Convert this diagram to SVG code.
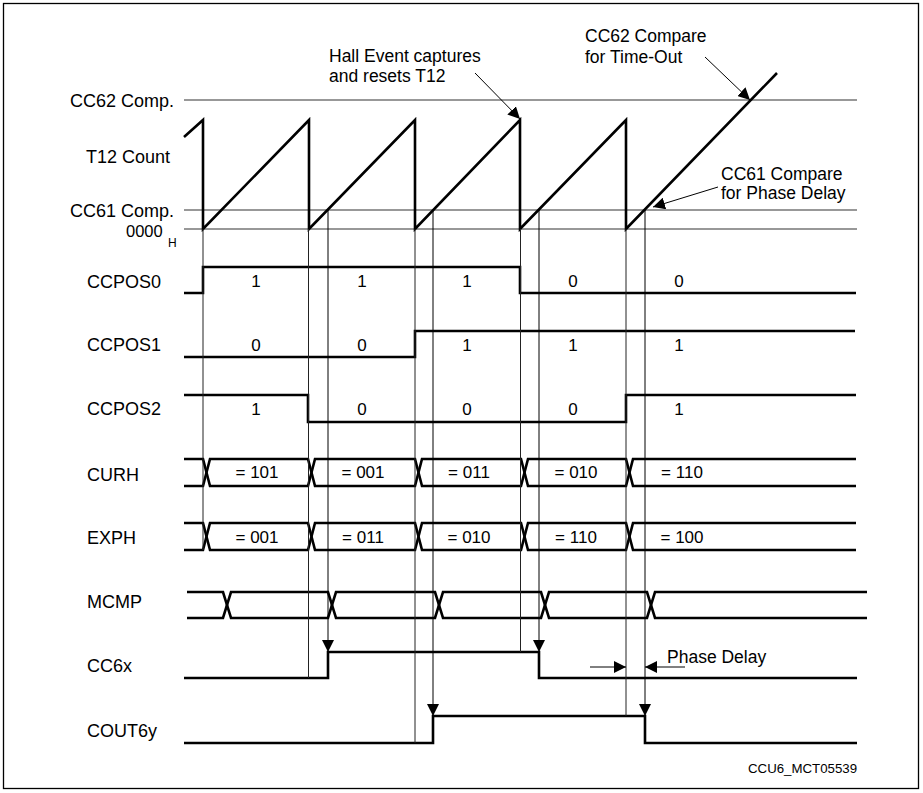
<svg xmlns="http://www.w3.org/2000/svg" width="923" height="793" viewBox="0 0 923 793">
<defs>
<style>
text{font-family:"Liberation Sans",Arial,Helvetica,sans-serif;fill:#000}
.lbl{font-size:18px}
.ann{font-size:17.5px}
.val{font-size:17px;text-anchor:middle}
.sig{fill:none;stroke:#000;stroke-width:2.6;stroke-linejoin:miter}
.thin{fill:none;stroke:#222;stroke-width:1}
.ref{fill:none;stroke:#333;stroke-width:1.1}
.arr{fill:none;stroke:#000;stroke-width:1;marker-end:url(#ah)}
</style>
<marker id="ah" viewBox="0 0 12 12" refX="12" refY="6" markerWidth="12" markerHeight="12" orient="auto" markerUnits="userSpaceOnUse">
<path d="M0,0 L12,6 L0,12 z" fill="#000"/>
</marker>
</defs>
<rect x="3.5" y="3.5" width="915" height="785" fill="#fff" stroke="#000" stroke-width="1.3"/>

<g id="reference-lines">
<line class="ref" x1="184" y1="100" x2="857" y2="100"/>
<line class="ref" x1="184" y1="210" x2="857" y2="210"/>
<line class="ref" x1="184" y1="229" x2="857" y2="229"/>
<text class="lbl" x="70" y="107">CC62 Comp.</text>
<text class="lbl" x="86" y="163">T12 Count</text>
<text class="lbl" x="70" y="217">CC61 Comp.</text>
<text x="126" y="237" style="font-size:16.5px">0000</text>
<text x="168" y="247" style="font-size:12px">H</text>
</g>

<g id="T12">
<path class="sig" d="M184,137 L203,120 V229 L309,120 V229 L415,120 V229 L520,120 V229 L626,120 V229 L777,73"/>
</g>

<g id="CCPOS0">
<text class="lbl" x="87" y="288">CCPOS0</text>
<path class="sig" d="M184,293 H203 V267 H520 V293 H856"/>
<text class="val" x="256" y="287">1</text>
<text class="val" x="362" y="287">1</text>
<text class="val" x="467" y="287">1</text>
<text class="val" x="573" y="287">0</text>
<text class="val" x="679" y="287">0</text>
</g>

<g id="CCPOS1">
<text class="lbl" x="87" y="351">CCPOS1</text>
<path class="sig" d="M184,357 H415 V331 H855"/>
<text class="val" x="256" y="351">0</text>
<text class="val" x="362" y="351">0</text>
<text class="val" x="467" y="351">1</text>
<text class="val" x="573" y="351">1</text>
<text class="val" x="679" y="351">1</text>
</g>

<g id="CCPOS2">
<text class="lbl" x="87" y="415">CCPOS2</text>
<path class="sig" d="M184,395 H308 V422 H626 V395 H856"/>
<text class="val" x="256" y="415">1</text>
<text class="val" x="362" y="415">0</text>
<text class="val" x="467" y="415">0</text>
<text class="val" x="573" y="415">0</text>
<text class="val" x="679" y="415">1</text>
</g>

<g id="CURH">
<text class="lbl" x="87" y="481">CURH</text>
<path class="sig" d="M184,459 H203 L210,486 H308 L315,459 H415 L422,486 H521 L528,459 H626 L633,486 H856"/>
<path class="sig" d="M184,486 H203 L210,459 H308 L315,486 H415 L422,459 H521 L528,486 H626 L633,459 H856"/>
<text class="val" x="257" y="478">= 101</text>
<text class="val" x="363" y="478">= 001</text>
<text class="val" x="469" y="478">= 011</text>
<text class="val" x="576" y="478">= 010</text>
<text class="val" x="682" y="478">= 110</text>
</g>

<g id="EXPH">
<text class="lbl" x="87" y="544">EXPH</text>
<path class="sig" d="M184,523 H203 L210,550 H308 L315,523 H415 L422,550 H521 L528,523 H626 L633,550 H856"/>
<path class="sig" d="M184,550 H203 L210,523 H308 L315,550 H415 L422,523 H521 L528,550 H626 L633,523 H856"/>
<text class="val" x="257" y="543">= 001</text>
<text class="val" x="363" y="543">= 011</text>
<text class="val" x="469" y="543">= 010</text>
<text class="val" x="576" y="543">= 110</text>
<text class="val" x="682" y="543">= 100</text>
</g>

<g id="MCMP">
<text class="lbl" x="87" y="608">MCMP</text>
<path class="sig" d="M187,592 H223 L231,618 H328 L336,592 H435 L443,618 H541 L549,592 H647 L655,618 H867"/>
<path class="sig" d="M187,618 H223 L231,592 H328 L336,618 H435 L443,592 H541 L549,618 H647 L655,592 H867"/>
</g>

<g id="CC6x">
<text class="lbl" x="87" y="672">CC6x</text>
<path class="sig" d="M184,678 H328 V652 H539 V678 H857"/>
</g>

<g id="COUT6y">
<text class="lbl" x="87" y="737">COUT6y</text>
<path class="sig" d="M184,743 H433 V716 H645 V743 H857"/>
</g>

<g id="connectors">
<line class="thin" x1="203" y1="229" x2="203" y2="550"/>
<line class="thin" x1="308.5" y1="229" x2="308.5" y2="678"/>
<line class="thin" x1="415" y1="229" x2="415" y2="743"/>
<line class="thin" x1="520.5" y1="229" x2="520.5" y2="652"/>
<line class="thin" x1="626" y1="229" x2="626" y2="716"/>
<line class="arr" x1="328" y1="210" x2="328" y2="652"/>
<line class="arr" x1="433" y1="210" x2="433" y2="716"/>
<line class="arr" x1="539" y1="210" x2="539" y2="652"/>
<line class="arr" x1="645" y1="210" x2="645" y2="716"/>
<line class="arr" x1="475" y1="73" x2="520" y2="119"/>
<line class="arr" x1="705" y1="57" x2="750" y2="100"/>
<line class="arr" x1="718" y1="187" x2="653" y2="207"/>
<line class="arr" x1="590" y1="667" x2="626" y2="667"/>
<line class="arr" x1="685" y1="667" x2="645" y2="667"/>
</g>

<g id="annotations">
<text class="ann" x="329" y="62">Hall Event captures</text>
<text class="ann" x="329" y="82">and resets T12</text>
<text class="ann" x="585" y="42">CC62 Compare</text>
<text class="ann" x="585" y="63">for Time-Out</text>
<text class="ann" x="721" y="180">CC61 Compare</text>
<text class="ann" x="721" y="199">for Phase Delay</text>
<text class="ann" x="667" y="663">Phase Delay</text>
<text x="748" y="773" style="font-size:13.5px" textLength="109" lengthAdjust="spacingAndGlyphs">CCU6_MCT05539</text>
</g>
</svg>
